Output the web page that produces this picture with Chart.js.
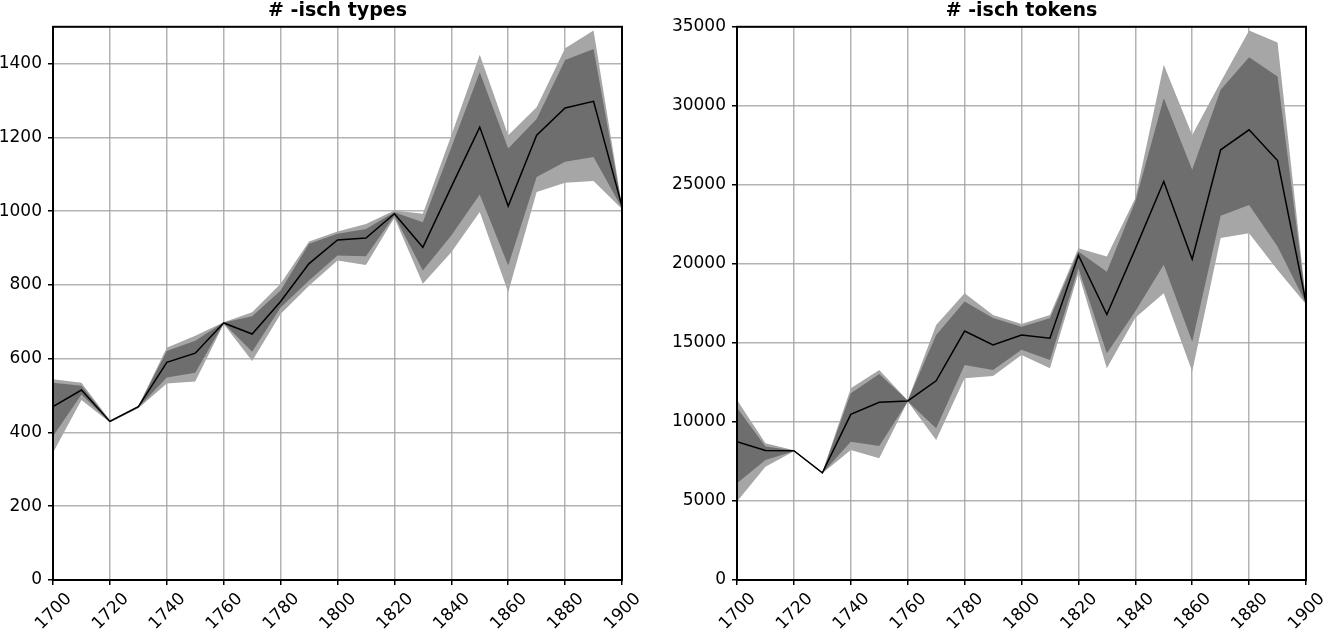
<!DOCTYPE html>
<html>
<head>
<meta charset="utf-8">
<title>-isch types / tokens</title>
<script src="https://cdn.jsdelivr.net/npm/chart.js@4.4.1/dist/chart.umd.min.js"></script>
<style>
  body { margin: 0; background: #fff; overflow: hidden; }
  .panel { position: absolute; top: 0; }
</style>
</head>
<body>
<canvas id="typesChart" class="panel" width="662" height="632" style="left:0px"></canvas>
<canvas id="tokensChart" class="panel" width="668" height="632" style="left:663px"></canvas>
<script>
// decades on the x axis
const years = [1700, 1710, 1720, 1730, 1740, 1750, 1760, 1770, 1780, 1790, 1800,
  1810, 1820, 1830, 1840, 1850, 1860, 1870, 1880, 1890, 1900];
const xTicks = [1700, 1720, 1740, 1760, 1780, 1800, 1820, 1840, 1860, 1880, 1900];

// # -isch types
const typesMean = [470, 515, 430, 470, 590, 615, 697, 667, 755, 858, 922, 927, 993, 902, 1066, 1228, 1014, 1206, 1280, 1298, 1013];
const typesInnerHi = [535, 527, 432, 471, 621, 649, 698, 715, 785, 912, 939, 952, 997, 970, 1173, 1377, 1170, 1250, 1410, 1440, 1013];
const typesInnerLo = [390, 503, 428, 468, 549, 562, 696, 619, 739, 812, 880, 878, 988, 839, 934, 1045, 853, 1093, 1134, 1147, 1008];
const typesOuterHi = [544, 535, 433, 472, 630, 662, 699, 726, 803, 918, 945, 965, 1002, 993, 1205, 1424, 1206, 1282, 1442, 1490, 1015];
const typesOuterLo = [345, 488, 427, 466, 533, 538, 694, 594, 721, 798, 866, 854, 982, 803, 889, 998, 780, 1052, 1077, 1082, 1006];
const typesYTicks = [0, 200, 400, 600, 800, 1000, 1200, 1400];

// # -isch tokens
const tokensMean = [8750, 8190, 8180, 6780, 10480, 11250, 11330, 12600, 15750, 14870, 15500, 15300, 20550, 16800, 20950, 25210, 20300, 27220, 28480, 26540, 17550];
const tokensInnerHi = [10900, 8440, 8200, 6800, 11810, 13040, 11350, 15500, 17620, 16580, 16030, 16560, 20780, 19510, 23950, 30480, 25950, 31010, 33080, 31860, 17600];
const tokensInnerLo = [6120, 7600, 8150, 6760, 8750, 8480, 11300, 9600, 13610, 13290, 14560, 13920, 19730, 14350, 17000, 19940, 15080, 23040, 23730, 21100, 17500];
const tokensOuterHi = [11390, 8650, 8210, 6810, 12130, 13290, 11360, 16140, 18150, 16770, 16200, 16770, 20990, 20460, 24160, 32600, 28160, 31500, 34770, 34010, 17650];
const tokensOuterLo = [4960, 7170, 8140, 6750, 8230, 7700, 11290, 8860, 12760, 12910, 14240, 13400, 19410, 13400, 16600, 18140, 13190, 21630, 21940, 19620, 17450];
const tokensYTicks = [0, 5000, 10000, 15000, 20000, 25000, 30000, 35000];

const darkGrey = "rgb(110,110,110)";
const lightGrey = "rgb(166,166,166)";
const fontFamily = "DejaVu Sans";

Chart.defaults.font.family = fontFamily;
Chart.defaults.color = "#000";

function pts(values) {
  return values.map((v, i) => ({ x: years[i], y: v }));
}

function band(values, fillTarget, color) {
  return {
    data: pts(values),
    borderColor: "rgba(0,0,0,0)",
    borderWidth: 0,
    pointRadius: 0,
    backgroundColor: color,
    fill: fillTarget,
  };
}

// box around the plot area, like the matplotlib frame
const framePlugin = {
  id: "frame",
  afterDraw(chart) {
    const a = chart.chartArea;
    const c = chart.ctx;
    c.save();
    c.strokeStyle = "#000";
    c.lineWidth = 2;
    c.strokeRect(a.left, a.top, a.right - a.left, a.bottom - a.top);
    c.restore();
  },
};

function draw(id, title, mean, innerHi, innerLo, outerHi, outerLo, yMax, yTicks, yWidth, rightPad) {
  return new Chart(document.getElementById(id), {
    type: "line",
    data: {
      datasets: [
        { data: pts(mean), borderColor: "#000", borderWidth: 1.5, pointRadius: 0, fill: false },
        band(innerHi, "+1", darkGrey),
        band(innerLo, false, darkGrey),
        band(outerHi, "+1", lightGrey),
        band(outerLo, false, lightGrey),
      ],
    },
    options: {
      responsive: false,
      animation: false,
      layout: { padding: { left: 0, right: rightPad, top: 0, bottom: 0 } },
      plugins: {
        legend: { display: false },
        tooltip: { enabled: false },
        title: {
          display: true,
          text: title,
          fullSize: false,
          color: "#000",
          font: { family: fontFamily, size: 19, weight: "bold" },
          padding: { top: 0, bottom: 4 },
        },
      },
      scales: {
        x: {
          type: "linear",
          min: 1700,
          max: 1900,
          z: 1,
          afterBuildTicks: (s) => { s.ticks = xTicks.map((v) => ({ value: v })); },
          afterFit: (s) => { s.height = 52; },
          border: { display: false },
          grid: { color: "rgba(160,160,160,0.8)", lineWidth: 1.5, tickColor: "#000", tickWidth: 1.5, tickLength: 5 },
          ticks: {
            autoSkip: false,
            minRotation: 45,
            maxRotation: 45,
            labelOffset: 16,
            padding: 4,
            color: "#000",
            font: { family: fontFamily, size: 17 },
            callback: (v) => String(v),
          },
        },
        y: {
          min: 0,
          max: yMax,
          z: 1,
          afterBuildTicks: (s) => { s.ticks = yTicks.map((v) => ({ value: v })); },
          afterFit: (s) => { s.width = yWidth; },
          border: { display: false },
          grid: { color: "rgba(160,160,160,0.8)", lineWidth: 1.5, tickColor: "#000", tickWidth: 1.5, tickLength: 5 },
          ticks: {
            padding: 6,
            color: "#000",
            font: { family: fontFamily, size: 17 },
            callback: (v) => String(v),
          },
        },
      },
    },
    plugins: [framePlugin],
  });
}

draw("typesChart", "# -isch types", typesMean, typesInnerHi, typesInnerLo, typesOuterHi, typesOuterLo, 1500, typesYTicks, 53, 40);
draw("tokensChart", "# -isch tokens", tokensMean, tokensInnerHi, tokensInnerLo, tokensOuterHi, tokensOuterLo, 35000, tokensYTicks, 74, 25);
</script>
</body>
</html>
